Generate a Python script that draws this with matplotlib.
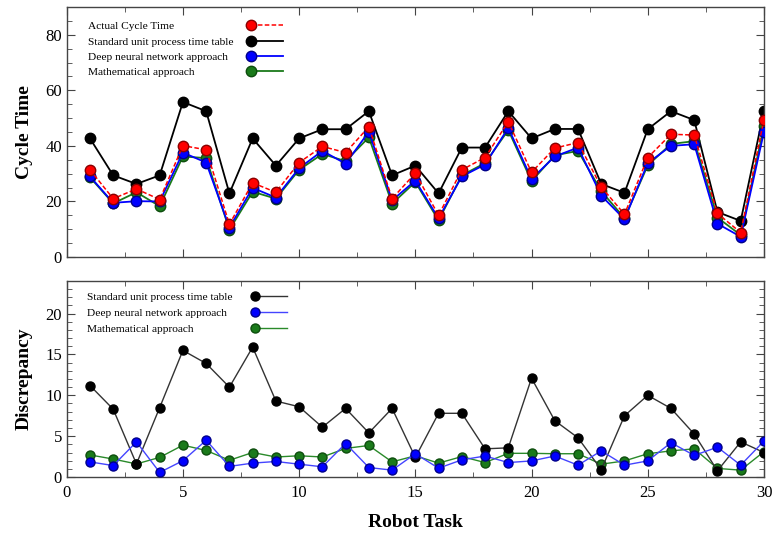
import numpy as np
import matplotlib
matplotlib.use("Agg")
import matplotlib.pyplot as plt
from matplotlib.legend_handler import HandlerLine2D
from matplotlib.ticker import MultipleLocator

plt.rcParams['font.family'] = ['Liberation Serif', 'DejaVu Serif']

# Data
tasks = list(range(1, 31))

actual = [31.4, 21.0, 24.5, 20.7, 40.1, 38.6, 11.8, 26.7, 23.3, 34.0,
          39.8, 37.6, 46.9, 21.0, 30.2, 15.0, 31.4, 35.8, 48.7, 30.5,
          39.2, 41.2, 25.2, 15.4, 35.8, 44.2, 43.9, 15.7, 8.8, 49.5]
standard = [42.7, 29.4, 26.3, 29.4, 55.8, 52.5, 22.9, 42.7, 32.9, 42.7,
            46.0, 46.0, 52.5, 29.4, 32.9, 22.9, 39.4, 39.4, 52.5, 42.7,
            46.1, 46.1, 26.3, 23.1, 46.0, 52.5, 49.3, 16.2, 13.0, 52.5]
dnn = [29.0, 19.5, 20.1, 20.0, 37.6, 34.0, 10.6, 24.9, 21.4, 32.0,
       38.2, 33.6, 45.1, 20.4, 27.5, 13.9, 29.0, 33.3, 46.5, 28.1,
       36.2, 39.4, 22.1, 13.6, 33.8, 40.0, 40.6, 12.0, 7.3, 45.0]
math_app = [28.7, 19.3, 23.3, 18.3, 36.2, 35.6, 9.8, 23.5, 21.0, 31.4,
            37.1, 34.5, 43.1, 19.2, 27.0, 13.2, 29.4, 33.8, 45.7, 27.3,
            36.6, 38.2, 23.7, 14.0, 33.0, 40.7, 41.7, 14.2, 7.9, 47.0]

disc_standard = [11.2, 8.3, 1.6, 8.5, 15.5, 13.9, 11.0, 15.9, 9.3, 8.6,
                 6.1, 8.4, 5.4, 8.4, 2.4, 7.8, 7.8, 3.45, 3.57, 12.1,
                 6.9, 4.8, 0.9, 7.5, 10.0, 8.4, 5.26, 0.76, 4.3, 3.0]
disc_dnn = [1.85, 1.4, 4.3, 0.56, 2.0, 4.5, 1.3, 1.7, 1.9, 1.57,
            1.25, 4.1, 1.16, 0.84, 2.85, 1.08, 2.1, 2.57, 1.77, 1.97,
            2.57, 1.45, 3.2, 1.45, 1.97, 4.2, 2.65, 3.65, 1.45, 4.4]
disc_math = [2.7, 2.2, 1.6, 2.4, 3.9, 3.25, 2.05, 3.0, 2.45, 2.6,
             2.45, 3.5, 3.86, 1.85, 2.6, 1.7, 2.5, 1.77, 2.9, 2.9,
             2.85, 2.85, 1.57, 1.97, 2.85, 3.2, 3.45, 1.05, 0.84, 3.1]


class LeftMarkerHandler(HandlerLine2D):
    # put the legend marker at the left end of the short line
    def create_artists(self, legend, orig_handle, xdescent, ydescent,
                       width, height, fontsize, trans):
        artists = super().create_artists(legend, orig_handle, xdescent, ydescent,
                                         width, height, fontsize, trans)
        for a in artists:
            a.set_markevery([0])
        return artists


def style_axes(ax, ymajor, yminor):
    ax.set_xlim(0, 30)
    ax.xaxis.set_major_locator(MultipleLocator(5))
    ax.xaxis.set_minor_locator(MultipleLocator(2.5))
    ax.yaxis.set_major_locator(MultipleLocator(ymajor))
    ax.yaxis.set_minor_locator(MultipleLocator(yminor))
    ax.tick_params(which='both', direction='in', top=True, right=True,
                   labelsize=12, color='#444444')
    ax.tick_params(axis='x', pad=6)
    ax.tick_params(which='major', length=6)
    ax.tick_params(which='minor', length=3.5)
    for s in ax.spines.values():
        s.set_color('#444444')
        s.set_linewidth(1.0)


def make_legend(ax, order, anchor, row_width, spacing):
    h, l = ax.get_legend_handles_labels()
    leg = ax.legend([h[i] for i in order], [l[i] for i in order], loc='upper left',
                    bbox_to_anchor=anchor, frameon=False, markerfirst=False,
                    fontsize=8.2, handlelength=2.8, handletextpad=1.0,
                    labelspacing=spacing, borderpad=0, borderaxespad=0,
                    handler_map={plt.Line2D: LeftMarkerHandler()})
    # left-align the labels, keep the handles in one column on the right
    for col in leg._legend_handle_box.get_children():
        for row in col.get_children():
            row.mode = 'expand'
            row.width = row_width
    return leg


fig = plt.figure(figsize=(7.74, 5.35), dpi=100)
ax1 = fig.add_axes([0.0862, 0.5196, 0.9008, 0.4673])
ax2 = fig.add_axes([0.0862, 0.1084, 0.9008, 0.3664])

# Top panel
ms = 7.5
ax1.plot(tasks, standard, '-o', color='black', lw=1.3, ms=ms, mec='black',
         label='Standard unit process time table', zorder=2)
ax1.plot(tasks, math_app, '-o', color='#1a7a1a', lw=1.3, ms=ms, mec='#0d4d0d',
         label='Mathematical approach', zorder=3)
ax1.plot(tasks, dnn, '-o', color='#0000ff', lw=1.3, ms=ms, mec='#00008a',
         label='Deep neural network approach', zorder=4)
ax1.plot(tasks, actual, '--o', color='#ff0000', lw=1.1, ms=ms, mec='#8a0000',
         dashes=(3, 1.5), label='Actual Cycle Time', zorder=5)
ax1.set_ylim(0, 90)
style_axes(ax1, 20, 5)
ax1.tick_params(labelbottom=False)
ax1.set_ylabel('Cycle Time', fontsize=14, fontweight='bold', labelpad=9)
make_legend(ax1, [3, 0, 2, 1], (0.031, 0.942), 195, 0.45)

# Bottom panel
ms2 = 6.5
ax2.plot(tasks, disc_math, '-o', color='#2a8a2a', lw=1.0, ms=ms2, mfc='#1a7a1a',
         mec='#0d4d0d', label='Mathematical approach', zorder=2)
ax2.plot(tasks, disc_standard, '-o', color='#333333', lw=1.0, ms=ms2, mfc='black',
         mec='black', label='Standard unit process time table', zorder=3)
ax2.plot(tasks, disc_dnn, '-o', color='#4444ff', lw=1.0, ms=ms2, mfc='#0000ff',
         mec='#00008a', label='Deep neural network approach', zorder=4)
ax2.set_ylim(0, 24)
style_axes(ax2, 5, 1)
ax2.set_ylabel('Discrepancy', fontsize=14, fontweight='bold', labelpad=9)
ax2.set_xlabel('Robot Task', fontsize=14, fontweight='bold', labelpad=9)
make_legend(ax2, [1, 2, 0], (0.029, 0.945), 200, 0.55)

fig.savefig('out.png', dpi=100)
